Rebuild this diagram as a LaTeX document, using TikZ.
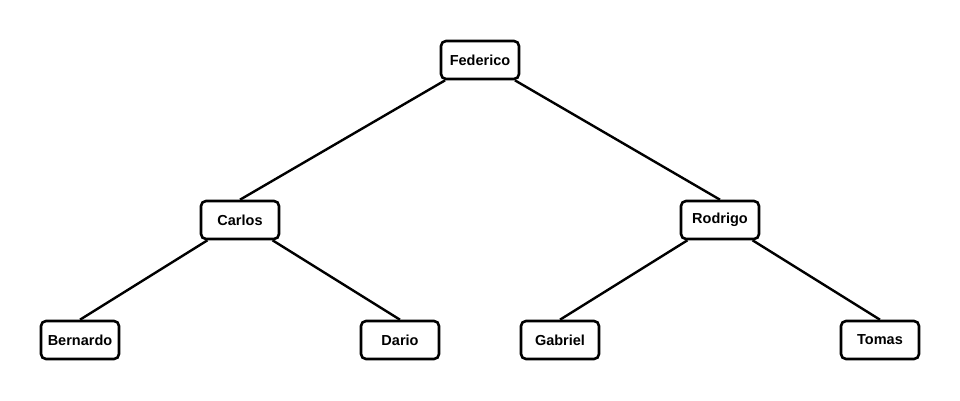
\documentclass[tikz,border=0pt]{standalone}
\usepackage{fontspec}
\setmainfont{Liberation Sans}
\usepackage{tikz}
\usetikzlibrary{positioning}

\begin{document}
\begin{tikzpicture}[
    x=1pt, y=-1pt,
    person/.style={draw, line width=2.6pt, rounded corners=5pt, minimum width=78pt, minimum height=38pt, inner sep=0pt, font=\fontsize{14.5}{16}\selectfont\bfseries},
    link/.style={line width=2.4pt}
]
\useasboundingbox (0,0) rectangle (960,400);
\node[person] (federico) at (480,60) {Federico};
\node[person] (carlos) at (240,220) {Carlos};
\node[person] (rodrigo) at (720,220) {Rodrigo};
\node[person] (bernardo) at (80,340) {Bernardo};
\node[person] (dario) at (400,340) {Dario};
\node[person] (gabriel) at (560,340) {Gabriel};
\node[person] (tomas) at (880,340) {Tomas};
\draw[link] (federico) -- (carlos.north);
\draw[link] (federico) -- (rodrigo.north);
\draw[link] (carlos) -- (bernardo.north);
\draw[link] (carlos) -- (dario.north);
\draw[link] (rodrigo) -- (gabriel.north);
\draw[link] (rodrigo) -- (tomas.north);
\end{tikzpicture}
\end{document}
